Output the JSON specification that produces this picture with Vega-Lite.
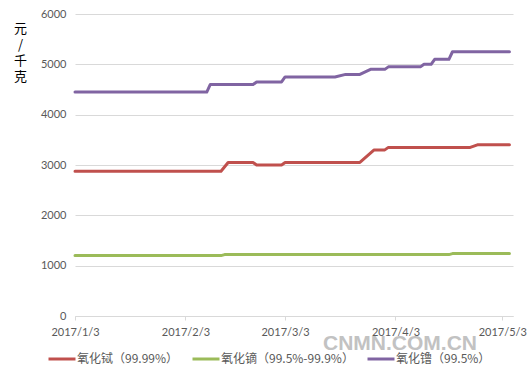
{
  "$schema": "https://vega.github.io/schema/vega-lite/v6.json",
  "width": 438,
  "height": 302,
  "autosize": {"type": "none"},
  "padding": {"left": 75, "top": 14, "right": 17, "bottom": 63},
  "background": "white",
  "title": {
    "text": "CNMN.COM.CN",
    "orient": "bottom",
    "anchor": "start",
    "frame": "group",
    "dx": 248,
    "dy": -32,
    "offset": 0,
    "font": "Liberation Sans",
    "fontSize": 21,
    "fontWeight": "bold",
    "color": "#C2C2C2",
    "baseline": "top"
  },
  "data": {
    "values": [
      {"series": "氧化铽（99.99%）", "date": "2017-01-03", "value": 2875},
      {"series": "氧化铽（99.99%）", "date": "2017-02-13", "value": 2875},
      {"series": "氧化铽（99.99%）", "date": "2017-02-15", "value": 3050},
      {"series": "氧化铽（99.99%）", "date": "2017-02-22", "value": 3050},
      {"series": "氧化铽（99.99%）", "date": "2017-02-23", "value": 3000},
      {"series": "氧化铽（99.99%）", "date": "2017-03-02", "value": 3000},
      {"series": "氧化铽（99.99%）", "date": "2017-03-03", "value": 3050},
      {"series": "氧化铽（99.99%）", "date": "2017-03-24", "value": 3050},
      {"series": "氧化铽（99.99%）", "date": "2017-03-28", "value": 3300},
      {"series": "氧化铽（99.99%）", "date": "2017-03-31", "value": 3300},
      {"series": "氧化铽（99.99%）", "date": "2017-04-01", "value": 3350},
      {"series": "氧化铽（99.99%）", "date": "2017-04-24", "value": 3350},
      {"series": "氧化铽（99.99%）", "date": "2017-04-26", "value": 3400},
      {"series": "氧化铽（99.99%）", "date": "2017-05-05", "value": 3400},
      {"series": "氧化镝（99.5%-99.9%）", "date": "2017-01-03", "value": 1200},
      {"series": "氧化镝（99.5%-99.9%）", "date": "2017-02-13", "value": 1200},
      {"series": "氧化镝（99.5%-99.9%）", "date": "2017-02-14", "value": 1220},
      {"series": "氧化镝（99.5%-99.9%）", "date": "2017-04-18", "value": 1220},
      {"series": "氧化镝（99.5%-99.9%）", "date": "2017-04-19", "value": 1240},
      {"series": "氧化镝（99.5%-99.9%）", "date": "2017-05-05", "value": 1240},
      {"series": "氧化镥（99.5%）", "date": "2017-01-03", "value": 4450},
      {"series": "氧化镥（99.5%）", "date": "2017-02-09", "value": 4450},
      {"series": "氧化镥（99.5%）", "date": "2017-02-10", "value": 4600},
      {"series": "氧化镥（99.5%）", "date": "2017-02-22", "value": 4600},
      {"series": "氧化镥（99.5%）", "date": "2017-02-23", "value": 4650},
      {"series": "氧化镥（99.5%）", "date": "2017-03-02", "value": 4650},
      {"series": "氧化镥（99.5%）", "date": "2017-03-03", "value": 4750},
      {"series": "氧化镥（99.5%）", "date": "2017-03-17", "value": 4750},
      {"series": "氧化镥（99.5%）", "date": "2017-03-20", "value": 4800},
      {"series": "氧化镥（99.5%）", "date": "2017-03-24", "value": 4800},
      {"series": "氧化镥（99.5%）", "date": "2017-03-27", "value": 4900},
      {"series": "氧化镥（99.5%）", "date": "2017-03-31", "value": 4900},
      {"series": "氧化镥（99.5%）", "date": "2017-04-01", "value": 4950},
      {"series": "氧化镥（99.5%）", "date": "2017-04-10", "value": 4950},
      {"series": "氧化镥（99.5%）", "date": "2017-04-11", "value": 5000},
      {"series": "氧化镥（99.5%）", "date": "2017-04-13", "value": 5000},
      {"series": "氧化镥（99.5%）", "date": "2017-04-14", "value": 5100},
      {"series": "氧化镥（99.5%）", "date": "2017-04-18", "value": 5100},
      {"series": "氧化镥（99.5%）", "date": "2017-04-19", "value": 5250},
      {"series": "氧化镥（99.5%）", "date": "2017-05-05", "value": 5250}
    ]
  },
  "mark": {"type": "line", "strokeWidth": 3, "strokeCap": "round", "strokeJoin": "round", "clip": false},
  "encoding": {
    "x": {
      "field": "date",
      "type": "temporal",
      "scale": {
        "type": "utc",
        "domain": [
          {"year": 2017, "month": 1, "date": 3, "utc": true},
          {"year": 2017, "month": 5, "date": 6, "utc": true}
        ]
      },
      "axis": {
        "title": null,
        "values": [
          {"year": 2017, "month": 1, "date": 3, "utc": true},
          {"year": 2017, "month": 2, "date": 3, "utc": true},
          {"year": 2017, "month": 3, "date": 3, "utc": true},
          {"year": 2017, "month": 4, "date": 3, "utc": true},
          {"year": 2017, "month": 5, "date": 3, "utc": true}
        ],
        "labelExpr": "utcFormat(datum.value, '%Y/%-m/%-d')",
        "grid": false,
        "domainColor": "#D9D9D9",
        "tickColor": "#D9D9D9",
        "tickSize": 4,
        "labelPadding": 6,
        "labelFont": "Lato",
        "labelFontSize": 11,
        "labelColor": "#595959",
        "labelFlush": false,
        "labelOverlap": false
      }
    },
    "y": {
      "field": "value",
      "type": "quantitative",
      "scale": {"domain": [0, 6000], "nice": false},
      "axis": {
        "values": [0, 1000, 2000, 3000, 4000, 5000, 6000],
        "format": "d",
        "domain": false,
        "ticks": false,
        "gridColor": "#D9D9D9",
        "labelPadding": 9,
        "labelFont": "Lato",
        "labelFontSize": 11,
        "labelColor": "#595959",
        "title": ["元", "/", "千", "克"],
        "titleAngle": 0,
        "titleAlign": "center",
        "titleBaseline": "top",
        "titleX": -55,
        "titleY": 8,
        "titleLineHeight": 16,
        "titleFont": "Noto Sans CJK SC",
        "titleFontSize": 13,
        "titleFontWeight": "normal",
        "titleColor": "#000000"
      }
    },
    "color": {
      "field": "series",
      "type": "nominal",
      "sort": ["氧化铽（99.99%）", "氧化镝（99.5%-99.9%）", "氧化镥（99.5%）"],
      "scale": {
        "domain": ["氧化铽（99.99%）", "氧化镝（99.5%-99.9%）", "氧化镥（99.5%）"],
        "range": ["#C0504D", "#9BBB59", "#8064A2"]
      },
      "legend": {
        "title": null,
        "orient": "none",
        "legendX": -28,
        "legendY": 330,
        "direction": "horizontal",
        "columns": 3,
        "columnPadding": 7,
        "symbolType": "stroke",
        "symbolSize": 729,
        "symbolStrokeWidth": 3,
        "labelOffset": 0,
        "labelFont": "Liberation Sans Narrow, Noto Sans CJK SC",
        "labelFontSize": 12,
        "labelColor": "#595959",
        "labelLimit": 300,
        "padding": 0
      }
    }
  },
  "config": {
    "view": {"stroke": null}
  }
}
